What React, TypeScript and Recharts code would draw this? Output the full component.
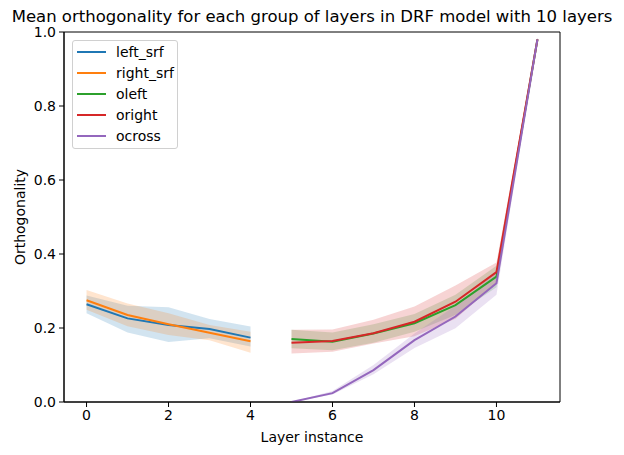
import React from 'react';
import {
  ComposedChart,
  Line,
  Area,
  XAxis,
  YAxis,
  ReferenceArea
} from 'recharts';

// layer index
const layers = [0, 1, 2, 3, 4, 5, 6, 7, 8, 9, 10, 11];

// left/right srf groups live in layers 0-4
const leftSrf = [0.264, 0.226, 0.208, 0.197, 0.174];
const leftSrfLo = [0.240, 0.188, 0.162, 0.172, 0.150];
const leftSrfHi = [0.288, 0.260, 0.256, 0.224, 0.204];

const rightSrf = [0.275, 0.235, 0.210, 0.187, 0.164];
const rightSrfLo = [0.249, 0.205, 0.181, 0.167, 0.133];
const rightSrfHi = [0.303, 0.266, 0.240, 0.208, 0.190];

// output groups live in layers 5-11
const oleft = [0.170, 0.163, 0.185, 0.213, 0.262, 0.339, 0.980];
const oleftLo = [0.145, 0.140, 0.160, 0.190, 0.235, 0.310, 0.975];
const oleftHi = [0.195, 0.188, 0.210, 0.238, 0.290, 0.368, 0.985];

const oright = [0.160, 0.165, 0.186, 0.217, 0.271, 0.351, 0.980];
const orightLo = [0.131, 0.136, 0.158, 0.178, 0.225, 0.320, 0.975];
const orightHi = [0.195, 0.196, 0.222, 0.258, 0.315, 0.377, 0.985];

const ocross = [0.000, 0.024, 0.086, 0.167, 0.231, 0.321, 0.980];
const ocrossLo = [0.000, 0.020, 0.075, 0.146, 0.199, 0.290, 0.975];
const ocrossHi = [0.000, 0.030, 0.100, 0.185, 0.260, 0.350, 0.985];

const xTicks = [0, 2, 4, 6, 8, 10];
const yTicks = [0, 0.2, 0.4, 0.6, 0.8, 1.0];

const SERIES = [
  { key: 'left_srf', color: '#1f77b4' },
  { key: 'right_srf', color: '#ff7f0e' },
  { key: 'oleft', color: '#2ca02c' },
  { key: 'oright', color: '#d62728' },
  { key: 'ocross', color: '#9467bd' }
];

const FONT = '"DejaVu Sans", sans-serif';

const pick = (arr: number[], i: number) => (i >= 0 && i < arr.length ? arr[i] : null);

const data = layers.map((x) => {
  const a = x;       // index for first groups
  const b = x - 5;   // index for output groups
  const band = (lo: number[], hi: number[], i: number) =>
    i >= 0 && i < lo.length ? [lo[i], hi[i]] : null;
  return {
    x,
    left_srf: pick(leftSrf, a),
    left_srf_band: band(leftSrfLo, leftSrfHi, a),
    right_srf: pick(rightSrf, a),
    right_srf_band: band(rightSrfLo, rightSrfHi, a),
    oleft: pick(oleft, b),
    oleft_band: band(oleftLo, oleftHi, b),
    oright: pick(oright, b),
    oright_band: band(orightLo, orightHi, b),
    ocross: pick(ocross, b),
    ocross_band: band(ocrossLo, ocrossHi, b)
  };
});

const LegendBox = () => (
  <div
    style={{
      position: 'absolute',
      left: 72,
      top: 40,
      border: '1px solid #d0d0d0',
      borderRadius: 3,
      background: 'rgba(255,255,255,0.8)',
      padding: '0px 3px 2px 4px',
      fontFamily: FONT,
      fontSize: 14,
      color: '#000'
    }}
  >
    {SERIES.map((s) => (
      <div key={s.key} style={{ display: 'flex', alignItems: 'center', height: 21 }}>
        <span style={{ display: 'inline-block', width: 29, height: 2, background: s.color, marginRight: 10 }} />
        <span>{s.key}</span>
      </div>
    ))}
  </div>
);

export default function App() {
  return (
    <div style={{ position: 'absolute', left: 0, top: 0, width: 624, height: 455, background: '#fff' }}>
      <div
        style={{
          position: 'absolute',
          left: 0,
          width: 624,
          top: 10,
          textAlign: 'center',
          fontFamily: FONT,
          fontSize: 16.5,
          whiteSpace: 'nowrap',
          lineHeight: '14px'
        }}
      >
        Mean orthogonality for each group of layers in DRF model with 10 layers
      </div>
      <div
        style={{
          position: 'absolute',
          left: 64,
          width: 496,
          top: 428,
          textAlign: 'center',
          fontFamily: FONT,
          fontSize: 14,
          lineHeight: '18px'
        }}
      >
        Layer instance
      </div>
      <div
        style={{
          position: 'absolute',
          left: 20,
          top: 217,
          transform: 'translate(-50%, -50%) rotate(-90deg)',
          fontFamily: FONT,
          fontSize: 14,
          whiteSpace: 'nowrap'
        }}
      >
        Orthogonality
      </div>
      <ComposedChart
        width={624}
        height={455}
        data={data}
        margin={{ top: 32, right: 64, bottom: 23, left: 0 }}
      >
        <XAxis
          dataKey="x"
          type="number"
          domain={[-0.55, 11.55]}
          ticks={xTicks}
          height={30}
          tickSize={5}
          tickMargin={3}
          stroke="#000"
          tick={{ fill: '#000', fontSize: 14, fontFamily: FONT }}
          allowDataOverflow
        />
        <YAxis
          type="number"
          domain={[0, 1]}
          ticks={yTicks}
          width={64}
          tickSize={5}
          tickMargin={3}
          stroke="#000"
          tick={{ fill: '#000', fontSize: 14, fontFamily: FONT }}
          tickFormatter={(v: number) => v.toFixed(1)}
          allowDataOverflow
        />
        <ReferenceArea
          x1={-0.55}
          x2={11.55}
          y1={0}
          y2={1}
          fill="none"
          stroke="#000"
          strokeWidth={1}
          ifOverflow="visible"
        />
        {SERIES.map((s) => (
          <Area
            key={s.key + '_band'}
            dataKey={s.key + '_band'}
            type="linear"
            stroke="none"
            fill={s.color}
            fillOpacity={0.2}
            isAnimationActive={false}
            legendType="none"
            activeDot={false}
          />
        ))}
        {SERIES.map((s) => (
          <Line
            key={s.key}
            dataKey={s.key}
            type="linear"
            stroke={s.color}
            strokeWidth={2}
            dot={false}
            activeDot={false}
            isAnimationActive={false}
          />
        ))}
      </ComposedChart>
      <LegendBox />
    </div>
  );
}
